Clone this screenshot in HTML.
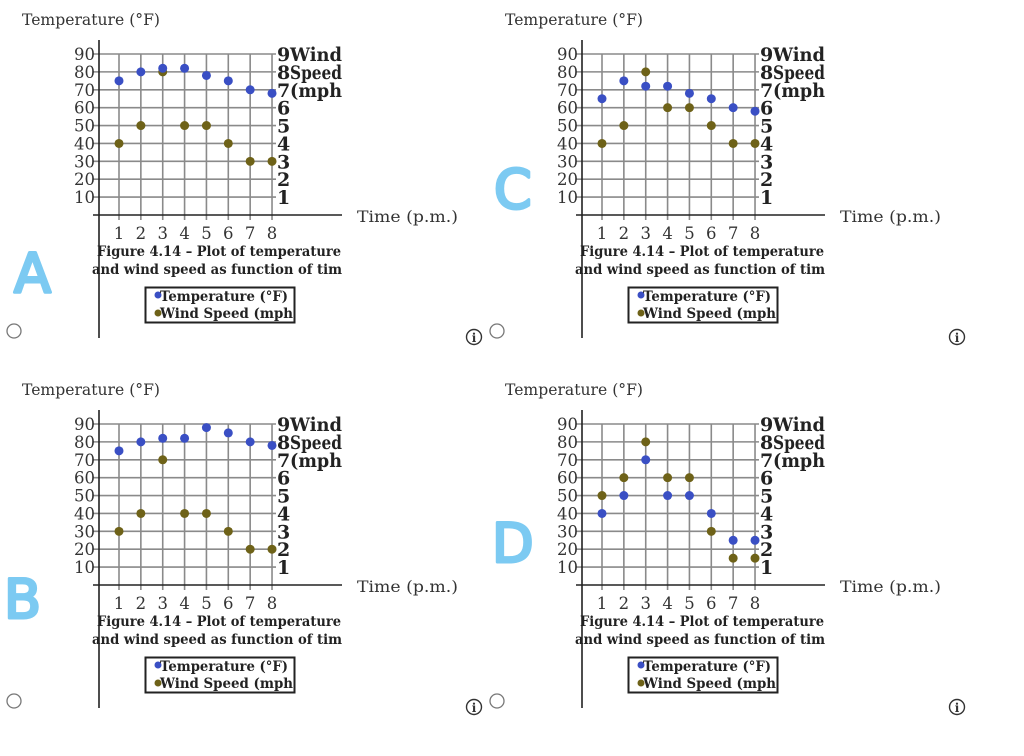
<!DOCTYPE html>
<html><head><meta charset="utf-8">
<style>
html,body{margin:0;padding:0;background:#fff;width:1024px;height:756px;overflow:hidden}
svg{display:block}
</style></head>
<body>
<svg id="root" width="1024" height="756" viewBox="0 0 1024 756" font-family="'DejaVu Serif', 'Liberation Serif', serif"></svg>
<script>
// data
const categories = [1,2,3,4,5,6,7,8];
const leftTicks = [10,20,30,40,50,60,70,80,90];
const rightTicks = ['1','2','3','4','5','6','7','8','9'];
const tempA = [75,80,82,82,78,75,70,68];
const windA = [4,5,8,5,5,4,3,3];
const tempC = [65,75,72,72,68,65,60,58];
const windC = [4,5,8,6,6,5,4,4];
const tempB = [75,80,82,82,88,85,80,78];
const windB = [3,4,7,4,4,3,2,2];
const tempD = [40,50,70,50,50,40,25,25];
const windD = [5,6,8,6,6,3,1.5,1.5];
const panelLetters = ['A','C','B','D'];

const NS='http://www.w3.org/2000/svg';
const root=document.getElementById('root');
function mk(tag,attrs,parent,text){const e=document.createElementNS(NS,tag);for(const k in attrs)e.setAttribute(k,attrs[k]);if(text!==undefined)e.textContent=text;parent.appendChild(e);return e;}

const panels=[
 {ox:0,oy:0,temp:tempA,wind:windA,letter:panelLetters[0],lx:14,ly:292},
 {ox:483,oy:0,temp:tempC,wind:windC,letter:panelLetters[1],lx:494,ly:208},
 {ox:0,oy:370,temp:tempB,wind:windB,letter:panelLetters[2],lx:4,ly:618},
 {ox:483,oy:370,temp:tempD,wind:windD,letter:panelLetters[3],lx:492,ly:562}
];

panels.forEach((p,pi)=>{
  const g=mk('g',{transform:`translate(${p.ox},${p.oy})`},root);
  
  
  const X=c=>119+(c-1)*21.86;
  const Y=v=>215-v*1.789;
  const t=mk('text',{x:22,y:25,'font-size':16,fill:'#333',textLength:138,lengthAdjust:'spacingAndGlyphs'},g,'Temperature (°F)');
  
  
  const grid=mk('g',{stroke:'#8a8a8a','stroke-width':1.6},g);
  
  
  leftTicks.forEach(v=>{mk('line',{x1:93,x2:276,y1:Y(v),y2:Y(v)},grid);});
  categories.forEach(c=>{mk('line',{x1:X(c),x2:X(c),y1:Y(90),y2:220},grid);});
  const ya=mk('line',{x1:99,x2:99,y1:40,y2:338,stroke:'#222','stroke-width':1.6},g);
  
  
  const xa=mk('line',{x1:93,x2:342,y1:215,y2:215,stroke:'#222','stroke-width':1.6},g);
  
  
  leftTicks.forEach(v=>{const e=mk('text',{x:95,y:Y(v)+6,'font-size':16.5,'text-anchor':'end',fill:'#333'},g,String(v));
    
    });
  rightTicks.forEach((s,i)=>{const e=mk('text',{x:277,y:Y((i+1)*10)+7,'font-size':19,'font-weight':'bold',fill:'#222'},g,s);
    
    });
  ['Wind','Speed','(mph'].forEach((s,i)=>{const e=mk('text',{x:290,y:Y(90-i*10)+7,'font-size':19,'font-weight':'bold',fill:'#222',textLength:52,lengthAdjust:'spacingAndGlyphs'},g,s);
    
    });
  categories.forEach(c=>{const e=mk('text',{x:X(c),y:239,'font-size':16.5,'text-anchor':'middle',fill:'#333'},g,String(c));
    
    });
  const xt=mk('text',{x:357,y:222,'font-size':16,fill:'#333',textLength:101,lengthAdjust:'spacingAndGlyphs'},g,'Time (p.m.)');
  
  
  const c1=mk('text',{x:97,y:256,'font-size':14,'font-weight':'bold',fill:'#222',textLength:244,lengthAdjust:'spacingAndGlyphs'},g,'Figure 4.14 – Plot of temperature');
  
  
  const c2=mk('text',{x:92,y:274,'font-size':14,'font-weight':'bold',fill:'#222',textLength:250,lengthAdjust:'spacingAndGlyphs'},g,'and wind speed as function of tim');
  
  
  p.wind.forEach((v,i)=>{const e=mk('circle',{cx:X(categories[i]),cy:Y(v*10),r:4.5,fill:'#6e6218'},g);
    
    });
  p.temp.forEach((v,i)=>{const e=mk('circle',{cx:X(categories[i]),cy:Y(v),r:4.5,fill:'#3a4fc4'},g);
    
    });
  const lg=mk('g',{},g);
  
  
  mk('rect',{x:145.5,y:287.5,width:149,height:35,fill:'#fff',stroke:'#222','stroke-width':2},lg);
  mk('circle',{cx:158,cy:295,r:3.5,fill:'#3a4fc4'},lg);
  mk('circle',{cx:158,cy:313,r:3.5,fill:'#6e6218'},lg);
  const l1=mk('text',{x:160,y:301,'font-size':14,'font-weight':'bold',fill:'#222',textLength:128,lengthAdjust:'spacingAndGlyphs'},lg,'Temperature (°F)');
  
  
  const l2=mk('text',{x:160,y:318,'font-size':14,'font-weight':'bold',fill:'#222',textLength:133,lengthAdjust:'spacingAndGlyphs'},lg,'Wind Speed (mph');
  
  
  const r=mk('circle',{cx:14,cy:331,r:7,fill:'#fff',stroke:'#777','stroke-width':1.3},g);
  
  
  const ig=mk('g',{},g);
  
  
  mk('circle',{cx:474,cy:337,r:7.5,fill:'none',stroke:'#333','stroke-width':1.4},ig);
  mk('text',{x:474,y:342,'font-size':12,'text-anchor':'middle','font-weight':'bold',fill:'#333'},ig,'i');
  const hl=mk('text',{x:p.lx-p.ox,y:p.ly-p.oy,'font-size':54,'font-family':"'DejaVu Sans', sans-serif",fill:'#7ccaf2',stroke:'#7ccaf2','stroke-width':3,'stroke-linejoin':'round'},g,p.letter);
  
  
});
</script>
</body></html>
